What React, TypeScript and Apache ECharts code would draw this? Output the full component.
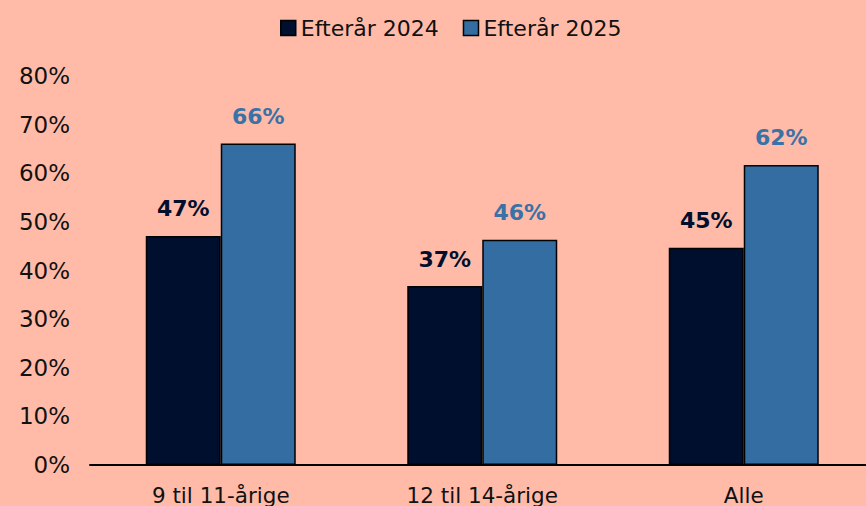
import React, { useEffect, useRef } from "react";
import * as echarts from "echarts";

const categories = ["9 til 11-årige", "12 til 14-årige", "Alle"];
const series2024 = [47.1, 36.8, 44.7];
const series2025 = [66.1, 46.3, 61.7];
const seriesNames = ["Efterår 2024", "Efterår 2025"];
const yTicks = { min: 0, max: 80, interval: 10 };

const FONT = "DejaVu Sans";

export default function App() {
  const ref = useRef<HTMLDivElement>(null);
  useEffect(() => {
    if (!ref.current) return;
    const chart = echarts.init(ref.current, null, { renderer: "svg" });
    const label = (color: string) => ({
      show: true,
      position: "top",
      distance: 16,
      color,
      fontFamily: FONT,
      fontWeight: "bold",
      fontSize: 22,
      formatter: (p: any) => Math.round(p.value) + "%",
    });
    chart.setOption({
      animation: false,
      backgroundColor: "#FFBBA8",
      legend: {
        top: 12,
        left: 275,
        icon: "rect",
        itemWidth: 15,
        itemHeight: 15,
        itemGap: 24,
        itemStyle: { borderColor: "#000", borderWidth: 1.5 },
        textStyle: { fontFamily: FONT, fontSize: 22, color: "#111", padding: [0, 0, 0, 0] },
        data: seriesNames,
      },
      grid: { left: 90, top: 76, width: 784.5, height: 389 },
      xAxis: {
        type: "category",
        data: categories,
        axisLine: { lineStyle: { color: "#000", width: 2 } },
        axisTick: { show: false },
        axisLabel: { fontFamily: FONT, fontSize: 21.5, color: "#111", margin: 19 },
      },
      yAxis: {
        type: "value",
        min: yTicks.min,
        max: yTicks.max,
        interval: yTicks.interval,
        splitLine: { show: false },
        axisLine: { show: false },
        axisTick: { show: false },
        axisLabel: {
          fontFamily: FONT,
          fontSize: 23,
          color: "#111",
          margin: 20,
          formatter: (v: number) => v + "%",
        },
      },
      series: [
        {
          name: seriesNames[0],
          type: "bar",
          data: series2024,
          barWidth: 75,
          barGap: "0%",
          itemStyle: { color: "#000F2E", borderColor: "#000", borderWidth: 1.5 },
          label: label("#000F2E"),
        },
        {
          name: seriesNames[1],
          type: "bar",
          data: series2025,
          barWidth: 75,
          itemStyle: { color: "#336DA1", borderColor: "#000", borderWidth: 1.5 },
          label: label("#3A72A8"),
        },
      ],
    });
    return () => chart.dispose();
  }, []);
  return (
    <div style={{ width: 866, height: 506, position: "absolute", left: 0, top: 0, overflow: "hidden" }}>
      <div ref={ref} style={{ width: 880, height: 506 }} />
    </div>
  );
}
